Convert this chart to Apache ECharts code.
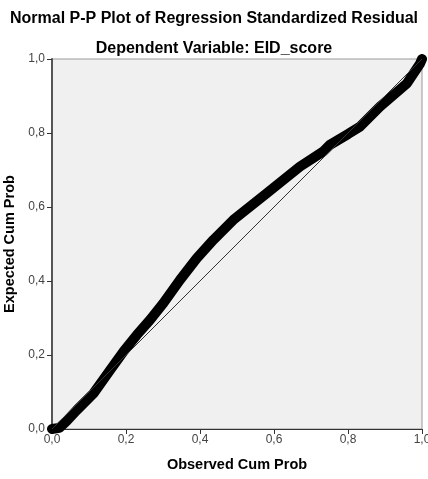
<!DOCTYPE html>
<html>
<head>
	<meta charset="utf-8">
	<title>PP plot</title>
</head>
<body style="margin:0">
<script type="text/javascript" src="https://cdn.jsdelivr.net/npm/echarts@6/dist/echarts.min.js"></script>
<div id="container" style="width: 428px;height: 479px;"></div>
<script type="text/javascript">
    // values
    var observed = [0, 0.02, 0.04, 0.067, 0.112, 0.157, 0.193, 0.229, 0.265, 0.301, 0.346, 0.391, 0.436, 0.49, 0.58, 0.67, 0.733, 0.751, 0.8, 0.832, 0.886, 0.959, 0.995, 1.0];
    var expected = [0, 0.003, 0.022, 0.051, 0.096, 0.159, 0.209, 0.254, 0.295, 0.34, 0.403, 0.461, 0.511, 0.565, 0.637, 0.709, 0.75, 0.768, 0.797, 0.817, 0.871, 0.934, 0.988, 1.0];
    var diagonal = [[0, 0], [1, 1]];

    var dom = document.getElementById('container');
    var myChart = echarts.init(dom);
    var option;

    var curve = observed.map(function (v, i) {
        return [v, expected[i]];
    });
    var fmt = function (v) {
        return v.toFixed(1).replace('.', ',');
    };
    var font = 'Liberation Sans, Arial, sans-serif';

    option = {
        animation: false,
        title: [
            {
                text: 'Normal P-P Plot of Regression Standardized Residual',
                left: 'center',
                top: 6,
                textStyle: {fontFamily: font, fontSize: 16, fontWeight: 'bold', color: '#000'}
            },
            {
                text: 'Dependent Variable: EID_score',
                left: 'center',
                top: 36,
                textStyle: {fontFamily: font, fontSize: 16, fontWeight: 'bold', color: '#000'}
            }
        ],
        grid: {
            left: 52,
            right: 6,
            top: 59,
            bottom: 50,
            outerBoundsMode: 'none',
            containLabel: false,
            show: true,
            backgroundColor: '#f0f0f0',
            borderColor: '#999',
            borderWidth: 1
        },
        xAxis: {
            type: 'value',
            min: 0,
            max: 1,
            interval: 0.2,
            name: 'Observed Cum Prob',
            nameLocation: 'middle',
            nameGap: 28,
            nameTextStyle: {fontFamily: font, fontSize: 14.5, fontWeight: 'bold', color: '#000'},
            axisLine: {lineStyle: {color: '#333', width: 1}},
            axisTick: {show: true, length: 5, lineStyle: {color: '#333'}},
            axisLabel: {fontFamily: font, fontSize: 12, color: '#444', margin: 5, formatter: fmt, showMaxLabel: true},
            splitLine: {show: false}
        },
        yAxis: {
            type: 'value',
            min: 0,
            max: 1,
            interval: 0.2,
            name: 'Expected Cum Prob',
            nameLocation: 'middle',
            nameGap: 27,
            nameTextStyle: {fontFamily: font, fontSize: 14.5, fontWeight: 'bold', color: '#000'},
            axisLine: {lineStyle: {color: '#555', width: 2}},
            axisTick: {show: true, length: 5, lineStyle: {color: '#333'}},
            axisLabel: {fontFamily: font, fontSize: 12, color: '#444', margin: 7, formatter: fmt},
            splitLine: {show: false}
        },
        series: [
            {
                type: 'line',
                data: diagonal,
                symbol: 'none',
                lineStyle: {color: '#333', width: 1},
                z: 3
            },
            {
                type: 'line',
                data: curve,
                symbol: 'none',
                lineStyle: {color: '#000', width: 10, cap: 'round', join: 'round'},
                z: 2
            }
        ]
    };

    if (option && typeof option === 'object') {
        myChart.setOption(option);
    }
    window.addEventListener('resize', myChart.resize);
</script>
</body>
</html>
